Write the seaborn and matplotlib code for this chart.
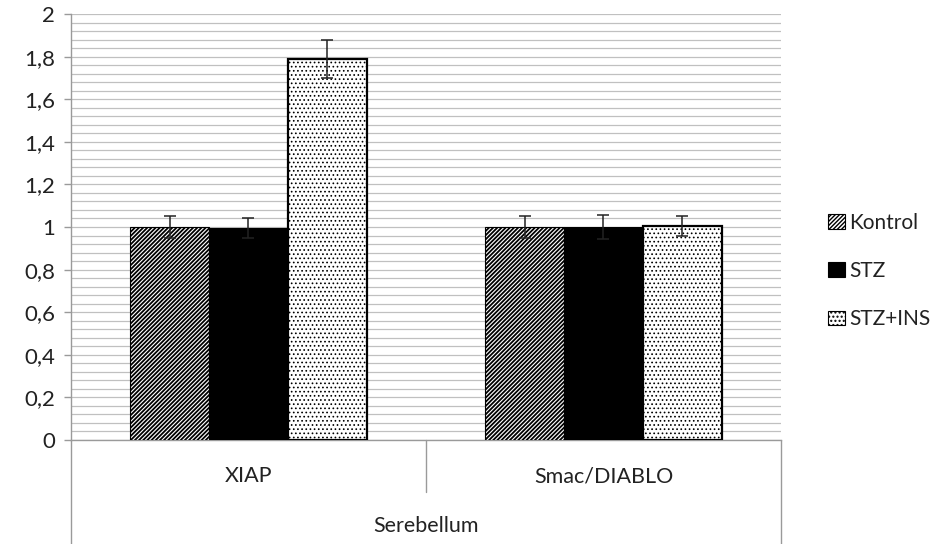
import numpy as np
import pandas as pd
import matplotlib
matplotlib.use("Agg")
import matplotlib.pyplot as plt
import matplotlib.patches as mpatches
import matplotlib.transforms as mtransforms
import seaborn as sns

# Data
proteins = ["XIAP", "Smac/DIABLO"]
groups = ["Kontrol", "STZ", "STZ+INS"]
kontrol = [1.00, 1.00]
stz = [0.995, 1.00]
stz_ins = [1.79, 1.005]
kontrol_err = [0.05, 0.05]
stz_err = [0.045, 0.055]
stz_ins_err = [0.09, 0.045]
region_label = "Serebellum"
ytick_values = [0, 0.2, 0.4, 0.6, 0.8, 1.0, 1.2, 1.4, 1.6, 1.8, 2.0]
ytick_labels = ["0", "0,2", "0,4", "0,6", "0,8", "1", "1,2", "1,4", "1,6", "1,8", "2"]

sns.set_style("white")
plt.rcParams["font.family"] = ["Lato", "DejaVu Sans"]
plt.rcParams["hatch.linewidth"] = 1.0

df = pd.DataFrame({
    "protein": proteins * 3,
    "group": [g for g in groups for _ in proteins],
    "value": kontrol + stz + stz_ins,
})
errs = {"Kontrol": kontrol_err, "STZ": stz_err, "STZ+INS": stz_ins_err}

fig = plt.figure(figsize=(9.36, 5.44), dpi=100)
ax = fig.add_axes([71 / 936, 1 - 440 / 544, 710 / 936, 426 / 544])

sns.barplot(data=df, x="protein", y="value", hue="group", order=proteins,
            hue_order=groups, palette=["white", "black", "white"],
            width=0.667, errorbar=None, ax=ax, legend=False, zorder=3)

styles = {
    "Kontrol": dict(hatch="////////", hlw=1.3, edgecolor="black", lw=0.8),
    "STZ": dict(hatch=None, hlw=1.0, edgecolor="black", lw=0.8),
    "STZ+INS": dict(hatch="....", hlw=0.7, edgecolor="black", lw=1.6),
}


def style_patch(p, st):
    if st["hatch"]:
        p.set_hatch(st["hatch"])
        if hasattr(p, "set_hatch_linewidth"):
            p.set_hatch_linewidth(st["hlw"])
    p.set_edgecolor(st["edgecolor"])
    p.set_linewidth(st["lw"])


for g, cont in zip(groups, ax.containers):
    st = styles[g]
    xs, ys = [], []
    for p in cont.patches:
        style_patch(p, st)
        xs.append(p.get_x() + p.get_width() / 2)
        ys.append(p.get_height())
    ax.errorbar(xs, ys, yerr=errs[g], fmt="none", ecolor="#222222",
                elinewidth=1.1, capsize=4.3, capthick=1.1, zorder=5)

ax.set_ylim(0, 2)
ax.set_xlim(-0.5, 1.5)
ax.set_yticks(ytick_values)
ax.set_yticklabels(ytick_labels)
ax.set_yticks(np.arange(0, 2.0001, 0.04), minor=True)
ax.yaxis.grid(True, which="both", color="#c0c0c0", lw=0.9, zorder=0)
ax.set_axisbelow(True)
ax.tick_params(axis="y", which="major", length=5, width=1, color="#9a9a9a",
               direction="out", pad=6.5, labelsize=16, labelcolor="#222222", left=True)
ax.tick_params(axis="y", which="minor", length=0)
ax.tick_params(axis="x", length=0, labelsize=15.5, labelcolor="#222222", pad=19)
ax.set_xlabel("")
ax.set_ylabel("")
for s in ["top", "right"]:
    ax.spines[s].set_visible(False)
for s in ["left", "bottom"]:
    ax.spines[s].set_color("#9a9a9a")
    ax.spines[s].set_linewidth(1)

# Multi-level category frame below the axis
trans = mtransforms.blended_transform_factory(ax.transData, ax.transAxes)
ax_h = 426
for xv in (-0.5, 1.5):
    ax.plot([xv, xv], [0, -104 / ax_h], transform=trans, color="#9a9a9a",
            lw=1, clip_on=False)
ax.plot([0.5, 0.5], [0, -52 / ax_h], transform=trans, color="#9a9a9a",
        lw=1, clip_on=False)
ax.text(0.5, -86 / ax_h, region_label, transform=trans, ha="center",
        va="center", fontsize=15.5, color="#222222")

# Legend
handles = []
for g in groups:
    h = mpatches.Patch(facecolor=("white" if g != "STZ" else "black"),
                       edgecolor="black", lw=0.8, label=g)
    style_patch(h, dict(styles[g], lw=0.8))
    handles.append(h)
fig.legend(handles=handles, loc="center left", bbox_to_anchor=(818 / 936, 1 - 271 / 544),
           frameon=False, fontsize=15, handlelength=0.8, handleheight=0.7,
           handletextpad=0.2, labelspacing=1.35, borderpad=0,
           labelcolor="#222222")

fig.savefig("out.png", dpi=100)
